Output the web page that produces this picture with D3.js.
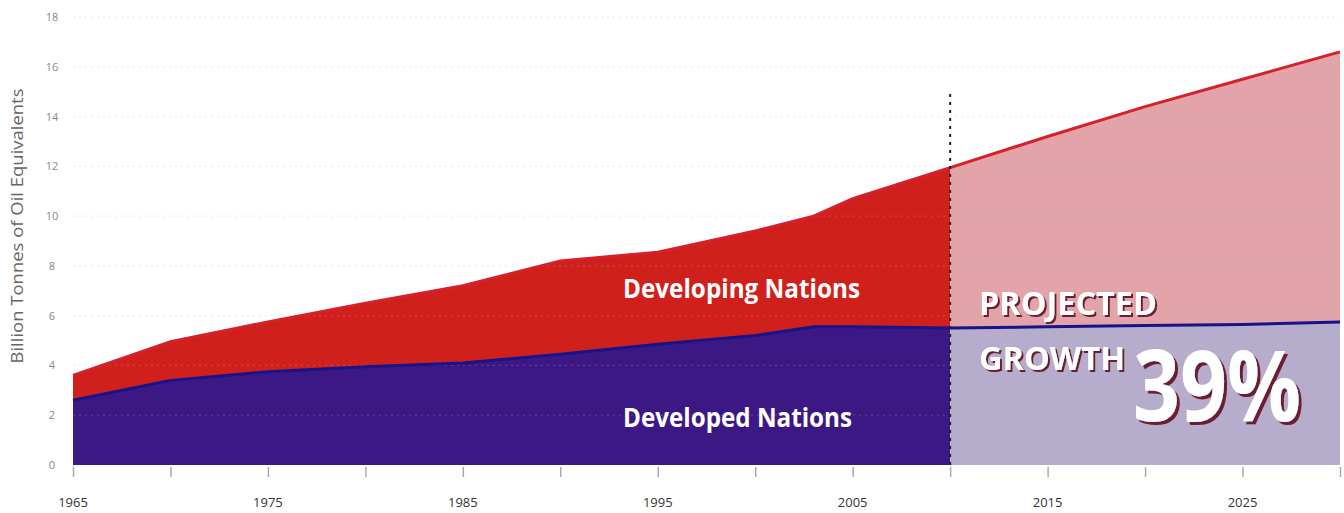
<!DOCTYPE html>
<html>
<head>
<meta charset="utf-8">
<script src="https://cdn.jsdelivr.net/npm/d3@7"></script>
<style>
  html, body { margin: 0; padding: 0; background: #fff; }
  svg { display: block; font-family: "Open Sans", "Noto Sans", sans-serif; }
</style>
</head>
<body>
<svg id="chart" width="1344" height="513"></svg>
<script>
// ---- data (billion tonnes of oil equivalent) ----
const years      = [1965, 1970, 1975, 1980, 1985, 1990, 1995, 2000, 2003, 2005, 2010, 2015, 2020, 2025, 2030];
const developed  = [2.6, 3.4, 3.75, 3.95, 4.1, 4.45, 4.85, 5.2, 5.55, 5.55, 5.5, 5.55, 5.6, 5.65, 5.75];
const developing = [1.0, 1.55, 2.0, 2.55, 3.1, 3.75, 3.7, 4.2, 4.45, 5.15, 6.45, 7.65, 8.8, 9.85, 10.85];
const yTicks     = [0, 2, 4, 6, 8, 10, 12, 14, 16, 18];
const xTickYears = [1965, 1970, 1975, 1980, 1985, 1990, 1995, 2000, 2005, 2010, 2015, 2020, 2025, 2030];
const xLabelYears = [1965, 1975, 1985, 1995, 2005, 2015, 2025];
const projectionStart = 2010;
const yTitle = "Billion Tonnes of Oil Equivalents";
const labelDeveloping = "Developing Nations";
const labelDeveloped = "Developed Nations";
const labelProjected = "PROJECTED";
const labelGrowth = "GROWTH";
const labelPct = "39%";

const rows = years.map((yr, i) => ({ year: yr, dev: developed[i], total: developed[i] + developing[i] }));

const svg = d3.select("#chart");
const x = d3.scaleLinear().domain([1965, 2030]).range([73, 1340]);
const y = d3.scaleLinear().domain([0, 18]).range([465, 17]);

const defs = svg.append("defs");
defs.append("clipPath").attr("id", "hist").append("rect")
  .attr("x", 0).attr("y", 0).attr("width", x(projectionStart)).attr("height", 513);
defs.append("clipPath").attr("id", "proj").append("rect")
  .attr("x", x(projectionStart)).attr("y", 0).attr("width", 1344 - x(projectionStart)).attr("height", 513);
function shadowFilter(id, off) {
  defs.append("filter").attr("id", id).attr("x", "-10%").attr("y", "-10%").attr("width", "130%").attr("height", "130%")
    .append("feDropShadow").attr("dx", off).attr("dy", off).attr("stdDeviation", 0.4)
    .attr("flood-color", "#6e1a30").attr("flood-opacity", 1);
}
shadowFilter("sh2", 2);
shadowFilter("sh3", 3);

const areaDev = d3.area().x(d => x(d.year)).y0(y(0)).y1(d => y(d.dev));
const areaDvg = d3.area().x(d => x(d.year)).y0(d => y(d.dev)).y1(d => y(d.total));
const lineDev = d3.line().x(d => x(d.year)).y(d => y(d.dev));
const lineTot = d3.line().x(d => x(d.year)).y(d => y(d.total));

// historical
const gh = svg.append("g").attr("clip-path", "url(#hist)");
gh.append("path").datum(rows).attr("d", areaDvg).attr("fill", "#d0201b");
gh.append("path").datum(rows).attr("d", areaDev).attr("fill", "#3c1884");
// projected
const gp = svg.append("g").attr("clip-path", "url(#proj)");
gp.append("path").datum(rows).attr("d", areaDvg).attr("fill", "#e2a4a9");
gp.append("path").datum(rows).attr("d", areaDev).attr("fill", "#b6adcc");

// grid (dotted, faint)
svg.append("g").selectAll("line").data(yTicks.filter(v => v > 0)).join("line")
  .attr("x1", x(1965)).attr("x2", x(2030))
  .attr("y1", d => y(d)).attr("y2", d => y(d))
  .attr("stroke", "#b0b0b0").attr("stroke-opacity", 0.25)
  .attr("stroke-width", 1.2).attr("stroke-dasharray", "2,4");

// lines
svg.append("path").datum(rows).attr("d", lineDev).attr("fill", "none")
  .attr("stroke", "#16148a").attr("stroke-width", 3);
svg.append("path").datum(rows).attr("d", lineTot).attr("fill", "none")
  .attr("stroke", "#d6202a").attr("stroke-width", 3);

// dashed divider
svg.append("line").attr("x1", x(projectionStart)).attr("x2", x(projectionStart))
  .attr("y1", 94).attr("y2", y(0))
  .attr("stroke", "#222").attr("stroke-width", 2).attr("stroke-dasharray", "3,5");

// x axis ticks
const xAxis = d3.axisBottom(x).tickValues(xTickYears).tickSize(10).tickFormat("");
const gx = svg.append("g").attr("transform", `translate(0,${y(0) + 2})`).call(xAxis);
gx.select(".domain").remove();
gx.selectAll("line").attr("stroke", "#aaa").attr("stroke-width", 1.5);
svg.append("g").selectAll("text").data(xLabelYears).join("text")
  .attr("x", d => x(d)).attr("y", 507).attr("text-anchor", "middle")
  .attr("font-size", 13).attr("fill", "#333").text(d => d);

// y axis labels
const yAxis = d3.axisLeft(y).tickValues(yTicks).tickSize(0).tickPadding(0);
const gy = svg.append("g").attr("transform", "translate(58,0)").call(yAxis);
gy.select(".domain").remove();
gy.selectAll("text").attr("text-anchor", "middle").attr("x", -6)
  .attr("font-size", 11).attr("fill", "#888").attr("font-family", "Open Sans, sans-serif");

svg.append("text").attr("transform", "translate(23,226) rotate(-90)")
  .attr("text-anchor", "middle").attr("font-size", 16).attr("fill", "#666")
  .attr("textLength", 275).attr("lengthAdjust", "spacingAndGlyphs").text(yTitle);

// in-chart labels
function label(txt, xx, yy, size, len, filterId) {
  const t = svg.append("text").attr("x", xx).attr("y", yy).attr("font-size", size)
    .attr("font-weight", 700).attr("fill", "#fff")
    .attr("textLength", len).attr("lengthAdjust", "spacingAndGlyphs").text(txt);
  if (filterId) t.attr("filter", `url(#${filterId})`);
}
label(labelDeveloping, 623, 298, 27, 237, null);
label(labelDeveloped, 623, 427, 27, 229, null);
label(labelProjected, 979, 315, 33, 178, "sh2");
label(labelGrowth, 979, 370, 32, 146, "sh2");
label(labelPct, 1133, 421, 98, 168, "sh3");
</script>
</body>
</html>
